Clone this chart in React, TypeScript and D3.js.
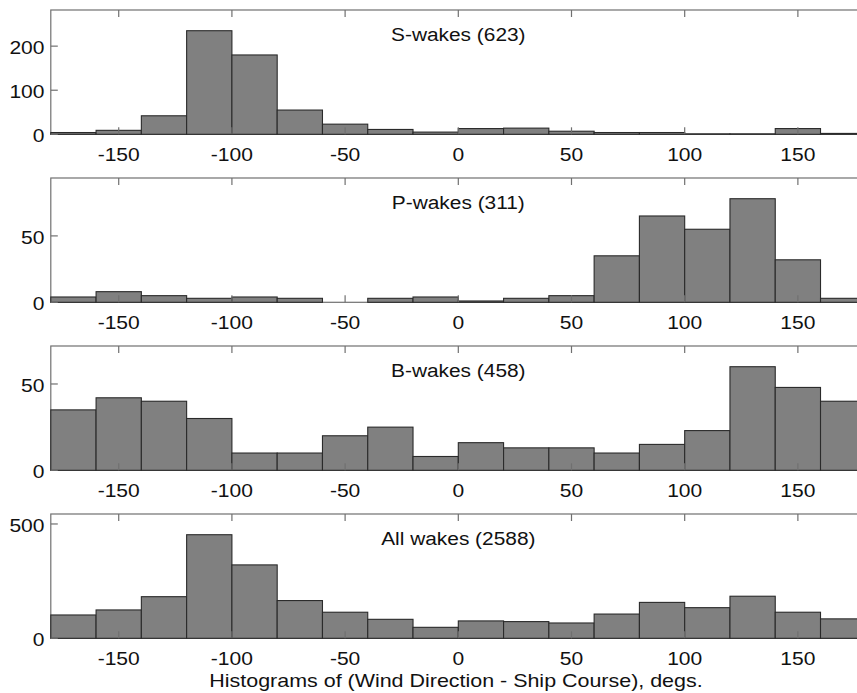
import React from "react";
import * as d3 from "d3";

const binEdges = [-180, -160, -140, -120, -100, -80, -60, -40, -20, 0, 20, 40, 60, 80, 100, 120, 140, 160, 180];
const xTicks = [-150, -100, -50, 0, 50, 100, 150];

const sWakes = [4, 9, 42, 235, 180, 55, 23, 11, 5, 13, 14, 7, 4, 4, 1, 1, 13, 2];
const pWakes = [4, 8, 5, 3, 4, 3, 0, 3, 4, 1, 3, 5, 35, 65, 55, 78, 32, 3];
const bWakes = [35, 42, 40, 30, 10, 10, 20, 25, 8, 16, 13, 13, 10, 15, 23, 60, 48, 40];
const allWakes = [102, 124, 182, 453, 321, 165, 114, 83, 48, 76, 73, 67, 106, 157, 134, 184, 114, 85];

const panelTitles = ["S-wakes (623)", "P-wakes (311)", "B-wakes (458)", "All wakes (2588)"];
const panelYTicks = [[0, 100, 200], [0, 50], [0, 50], [0, 500]];
const panelValues = [sWakes, pWakes, bWakes, allWakes];
const xLabel = "Histograms of (Wind Direction - Ship Course), degs.";

const W = 857;
const H = 693;
const X0 = 50.8;
const X1 = 865.8;
const panelTop = (i: number) => 10 + i * 168;
const panelH = 124.3;
const FONT = "'Liberation Sans', Arial, Helvetica, sans-serif";
const SX = 1.17;
const FRAME = "#707070";
const TICK = 7;

function StretchText(props: { x: number; y: number; anchor: string; size: number; text: string; sx?: number }) {
  const { x, y, anchor, size, text } = props;
  const sx = props.sx ?? SX;
  return (
    <g transform={`translate(${x},${y}) scale(${sx},1)`}>
      <text x={0} y={0} textAnchor={anchor} fontSize={size} fontFamily={FONT} fill="#111">
        {text}
      </text>
    </g>
  );
}

function Panel(props: { idx: number }) {
  const i = props.idx;
  const values = panelValues[i];
  const top = panelTop(i);
  const bottom = top + panelH;
  const x = d3.scaleLinear().domain([-180, 180]).range([X0, X1]);
  const ymax = 1.2 * (d3.max(values) as number);
  const y = d3.scaleLinear().domain([0, ymax]).range([bottom, top]);
  const bins = values.map((v, k) => ({ v, x0: binEdges[k], x1: binEdges[k + 1] }));
  return (
    <g>
      <rect x={X0} y={top} width={X1 - X0} height={panelH} fill="#fff" stroke={FRAME} strokeWidth={1.2} />
      {bins.map((b, k) =>
        b.v > 0 ? (
          <rect
            key={k}
            x={x(b.x0)}
            y={y(b.v)}
            width={x(b.x1) - x(b.x0)}
            height={bottom - y(b.v)}
            fill="#808080"
            stroke="#2a2a2a"
            strokeWidth={1.1}
          />
        ) : null
      )}
      {xTicks.map((t) => (
        <g key={t}>
          <line x1={x(t)} x2={x(t)} y1={top} y2={top + TICK} stroke={FRAME} strokeWidth={1.2} />
          <line x1={x(t)} x2={x(t)} y1={bottom} y2={bottom - TICK} stroke={FRAME} strokeWidth={1.2} />
          <StretchText x={x(t)} y={bottom + 26.5} anchor="middle" size={18} text={String(t)} />
        </g>
      ))}
      {panelYTicks[i].map((t) => (
        <g key={t}>
          <line x1={X0} x2={X0 + TICK} y1={y(t)} y2={y(t)} stroke={FRAME} strokeWidth={1.2} />
          <line x1={X1} x2={X1 - TICK} y1={y(t)} y2={y(t)} stroke={FRAME} strokeWidth={1.2} />
          <StretchText x={44.5} y={y(t) + 8} anchor="end" size={18} text={String(t)} />
        </g>
      ))}
      <StretchText x={x(0)} y={top + 30.5} anchor="middle" size={18} sx={1.16} text={panelTitles[i]} />
    </g>
  );
}

export default function App() {
  return (
    <svg
      width={W}
      height={H}
      viewBox={`0 0 ${W} ${H}`}
      style={{ position: "absolute", left: 0, top: 0, background: "#fff", overflow: "hidden" }}
    >
      <rect x={0} y={0} width={W} height={H} fill="#fff" />
      {panelTitles.map((_, i) => (
        <Panel key={i} idx={i} />
      ))}
      <StretchText x={456} y={686.5} anchor="middle" size={18.5} sx={1.16} text={xLabel} />
    </svg>
  );
}
